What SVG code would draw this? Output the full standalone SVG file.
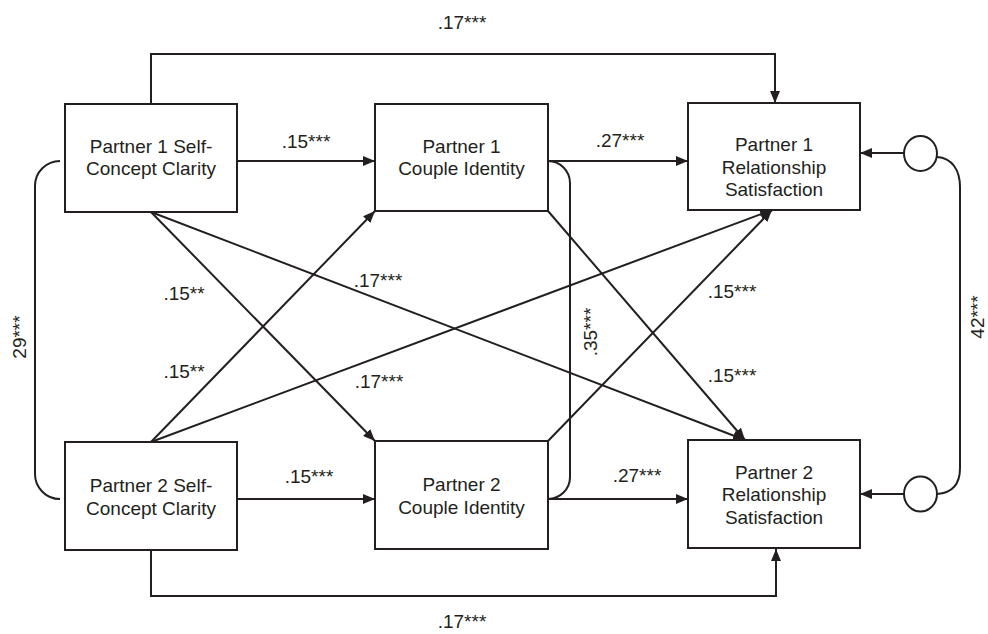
<svg xmlns="http://www.w3.org/2000/svg" width="988" height="634" viewBox="0 0 988 634">
<style>
.box{fill:#fff;stroke:#231f20;stroke-width:2}
.ln{fill:none;stroke:#231f20;stroke-width:2}
.t{font-family:"Liberation Sans",Arial,sans-serif;font-size:19px;fill:#231f20;text-anchor:middle}
</style>
<defs>
<marker id="ah" viewBox="0 0 12 10" refX="12" refY="5" markerWidth="12" markerHeight="10" markerUnits="userSpaceOnUse" orient="auto">
<path d="M0,0 L12,5 L0,10 z" fill="#231f20"/>
</marker>
</defs>
<rect width="988" height="634" fill="#fff"/>
<g id="connectors">
<path class="ln" d="M151,104 V54 H775 V103" marker-end="url(#ah)"/>
<path class="ln" d="M151,550 V596 H776 V549" marker-end="url(#ah)"/>
<line class="ln" x1="237" y1="161" x2="375" y2="161" marker-end="url(#ah)"/>
<line class="ln" x1="548" y1="161" x2="688" y2="161" marker-end="url(#ah)"/>
<line class="ln" x1="237" y1="499" x2="375" y2="499" marker-end="url(#ah)"/>
<line class="ln" x1="548" y1="499" x2="688" y2="499" marker-end="url(#ah)"/>
<line class="ln" x1="151" y1="212" x2="375" y2="441" marker-end="url(#ah)"/>
<line class="ln" x1="151" y1="212" x2="745" y2="440" marker-end="url(#ah)"/>
<line class="ln" x1="151" y1="442" x2="375" y2="211" marker-end="url(#ah)"/>
<line class="ln" x1="151" y1="442" x2="772" y2="210" marker-end="url(#ah)"/>
<line class="ln" x1="548" y1="441" x2="772" y2="210" marker-end="url(#ah)"/>
<line class="ln" x1="548" y1="211" x2="745" y2="440" marker-end="url(#ah)"/>
<line class="ln" x1="904" y1="153" x2="860" y2="153" marker-end="url(#ah)"/>
<line class="ln" x1="904" y1="494" x2="860" y2="494" marker-end="url(#ah)"/>
<path class="ln" d="M60,161 A25,25 0 0 0 35,186 V474 A25,25 0 0 0 60,499"/>
<path class="ln" d="M548,161 A22,22 0 0 1 570,183 V477 A22,22 0 0 1 548,499"/>
<path class="ln" d="M937,157 C952,158 960,170 960,187 V468 C960,484 952,493 937,494"/>
<text class="t" x="462" y="29">.17***</text>
<text class="t" x="462" y="628">.17***</text>
<text class="t" x="306" y="148">.15***</text>
<text class="t" x="620" y="147">.27***</text>
<text class="t" x="309" y="483">.15***</text>
<text class="t" x="637" y="482">.27***</text>
<text class="t" x="184" y="300">.15**</text>
<text class="t" x="378" y="287">.17***</text>
<text class="t" x="184" y="378">.15**</text>
<text class="t" x="379" y="388">.17***</text>
<text class="t" x="732" y="298">.15***</text>
<text class="t" x="732" y="382">.15***</text>
<text class="t" transform="translate(597,332) rotate(-90)">.35***</text>
<text class="t" transform="translate(26,337) rotate(-90)">29***</text>
<text class="t" transform="translate(984,317) rotate(-90)">42***</text>
</g>
<g id="p1scc">
<rect class="box" x="65" y="104" width="172" height="108"/>
<text class="t" x="151" y="153">Partner 1 Self-</text>
<text class="t" x="151" y="175">Concept Clarity</text>
</g>
<g id="p1ci">
<rect class="box" x="375" y="104" width="173" height="107"/>
<text class="t" x="461.5" y="153">Partner 1</text>
<text class="t" x="461.5" y="175">Couple Identity</text>
</g>
<g id="p1rs">
<rect class="box" x="688" y="103" width="172" height="107"/>
<text class="t" x="774" y="151">Partner 1</text>
<text class="t" x="774" y="174">Relationship</text>
<text class="t" x="774" y="196">Satisfaction</text>
</g>
<g id="p2scc">
<rect class="box" x="65" y="442" width="172" height="108"/>
<text class="t" x="151" y="492">Partner 2 Self-</text>
<text class="t" x="151" y="515">Concept Clarity</text>
</g>
<g id="p2ci">
<rect class="box" x="375" y="441" width="173" height="108"/>
<text class="t" x="461.5" y="491">Partner 2</text>
<text class="t" x="461.5" y="514">Couple Identity</text>
</g>
<g id="p2rs">
<rect class="box" x="688" y="440" width="172" height="108"/>
<text class="t" x="774" y="479">Partner 2</text>
<text class="t" x="774" y="501">Relationship</text>
<text class="t" x="774" y="524">Satisfaction</text>
</g>
<g id="e1">
<ellipse cx="920.5" cy="153.5" rx="16.5" ry="17.5" fill="#fff" stroke="#231f20" stroke-width="2"/>
</g>
<g id="e2">
<ellipse cx="920.5" cy="494" rx="16.5" ry="17.5" fill="#fff" stroke="#231f20" stroke-width="2"/>
</g>
</svg>
